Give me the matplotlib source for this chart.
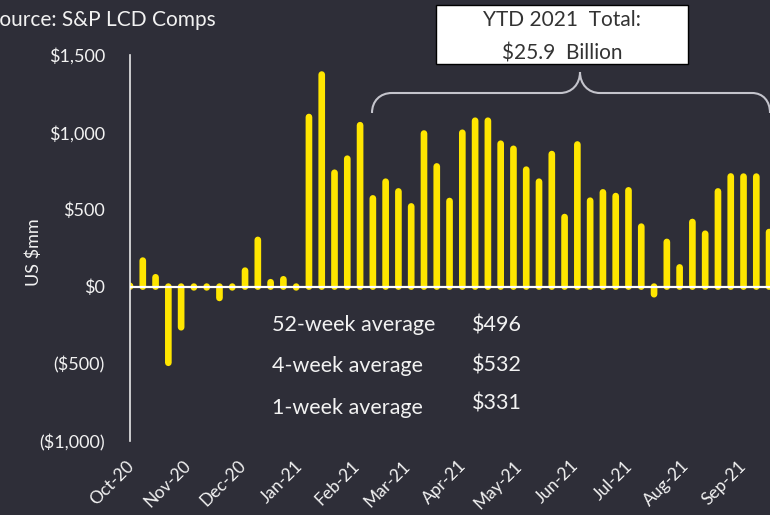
import numpy as np
import pandas as pd
import matplotlib
matplotlib.use('Agg')
import matplotlib.pyplot as plt
import matplotlib.dates as mdates
from matplotlib.path import Path
from matplotlib.patches import PathPatch, Rectangle

# weekly volume, US $mm
week_start = '2020-09-30'
weekly_volume = [5, 190, 82, -515, -285, -5, -10, -95, -10, 125, 324, 50, 69, -20,
                 1120, 1395, 759, 850, 1067, 593, 701, 638, 541, 1013, 800, 576,
                 1018, 1096, 1096, 947, 914, 779, 701, 880, 472, 942, 578, 632,
                 608, 645, 410, -71, 311, 146, 440, 364, 638, 735, 734, 734, 375]

y_ticks = [-1000, -500, 0, 500, 1000, 1500]
y_tick_labels = ['($1,000)', '($500)', '$0', '$500', '$1,000', '$1,500']

avg_labels = ['52-week average', '4-week average', '1-week average']
avg_values = ['$496', '$532', '$331']
ytd_lines = ['YTD 2021  Total:', '$25.9  Billion']
source_text = 'Source: S&P LCD Comps'
y_label = 'US $mm'

BG = '#2e2e38'
BAR = '#ffe600'
TXT = '#f2f2f2'
BRACE = '#c4c4cc'
FONT = 'Lato'

W, H = 770, 515


def px(x, y):
    # pixel position (from top left) -> figure fraction
    return x / W, 1 - y / H


plt.rcParams['font.family'] = FONT

fig = plt.figure(figsize=(W / 100, H / 100), dpi=100, facecolor=BG)
ax = fig.add_axes([130 / W, 1 - 441 / H, 640 / W, 386 / H])
ax.set_facecolor(BG)

dates = mdates.date2num(pd.date_range(week_start, periods=len(weekly_volume), freq='7D'))
vals = np.array(weekly_volume, dtype=float)

# bars are thick lines with round caps; pull the ends in so the cap tip lands on the value
# (keep a small length so near-zero weeks still show up as a dot)
bar_lw = 4.8
y_min, y_max = -1000, 1500
cap = (bar_lw * 100 / 72 / 2) / 386 * (y_max - y_min)
ends = np.sign(vals) * np.maximum(np.abs(vals) - cap, 5.0)
ax.vlines(dates, 0, ends, colors=BAR, linewidth=bar_lw, capstyle='round',
          snap=False, zorder=2)
ax.axhline(0, color='white', linewidth=1.6, zorder=3)

x0 = mdates.date2num(pd.Timestamp(week_start))
ax.set_xlim(x0, x0 + 350.5)
ax.set_ylim(y_min, y_max)

for s in ['top', 'right', 'bottom']:
    ax.spines[s].set_visible(False)
ax.spines['left'].set_color('#e8e8e8')
ax.spines['left'].set_linewidth(1.2)

ax.set_yticks(y_ticks, y_tick_labels)
ax.tick_params(axis='y', length=0, pad=18, labelcolor=TXT, labelsize=13)

ax.xaxis.set_major_locator(mdates.MonthLocator())
ax.xaxis.set_major_formatter(mdates.DateFormatter('%b-%y'))
ax.tick_params(axis='x', length=0, pad=16, labelcolor=TXT, labelsize=12.5)
for lbl in ax.get_xticklabels():
    lbl.set_rotation(45)
    lbl.set_ha('right')
    lbl.set_va('center')
    lbl.set_rotation_mode('anchor')

fig.text(*px(34, 252), y_label, rotation=90, ha='center', va='center',
         color=TXT, fontsize=13)
fig.text(*px(-12, 26), source_text, ha='left', va='baseline', color=TXT, fontsize=15)

# averages
for (lx, ly, vy), lab, v in zip([(272, 331, 331), (272, 372, 372), (272, 414, 410)],
                                avg_labels, avg_values):
    fig.text(*px(lx, ly), lab, ha='left', va='baseline', color=TXT, fontsize=15.5)
    fig.text(*px(472, vy), v, ha='left', va='baseline', color=TXT, fontsize=15.5)

# YTD box
bx, by = px(436, 64)
fig.add_artist(Rectangle((bx, by), 252 / W, 59 / H, transform=fig.transFigure,
                         facecolor='white', edgecolor='black', linewidth=1))
fig.text(*px(562, 26), ytd_lines[0], ha='center', va='baseline', color='#333333', fontsize=15)
fig.text(*px(562, 59.5), ytd_lines[1], ha='center', va='baseline', color='#333333', fontsize=15)

# curly brace over 2021
brace_pts = [(372, 113), (372, 101), (380, 93), (392, 93), (560, 93),
             (572, 93), (580, 84), (580, 72), (580, 84), (588, 93), (600, 93),
             (752, 93), (763, 93), (770, 101), (770, 113)]
codes = [Path.MOVETO, Path.CURVE4, Path.CURVE4, Path.CURVE4, Path.LINETO,
         Path.CURVE4, Path.CURVE4, Path.CURVE4, Path.CURVE4, Path.CURVE4, Path.CURVE4,
         Path.LINETO, Path.CURVE4, Path.CURVE4, Path.CURVE4]
brace = Path([px(x, y) for x, y in brace_pts], codes)
fig.add_artist(PathPatch(brace, transform=fig.transFigure, fill=False,
                         edgecolor=BRACE, linewidth=1.5))

fig.savefig('out.png', dpi=100, facecolor=BG)
